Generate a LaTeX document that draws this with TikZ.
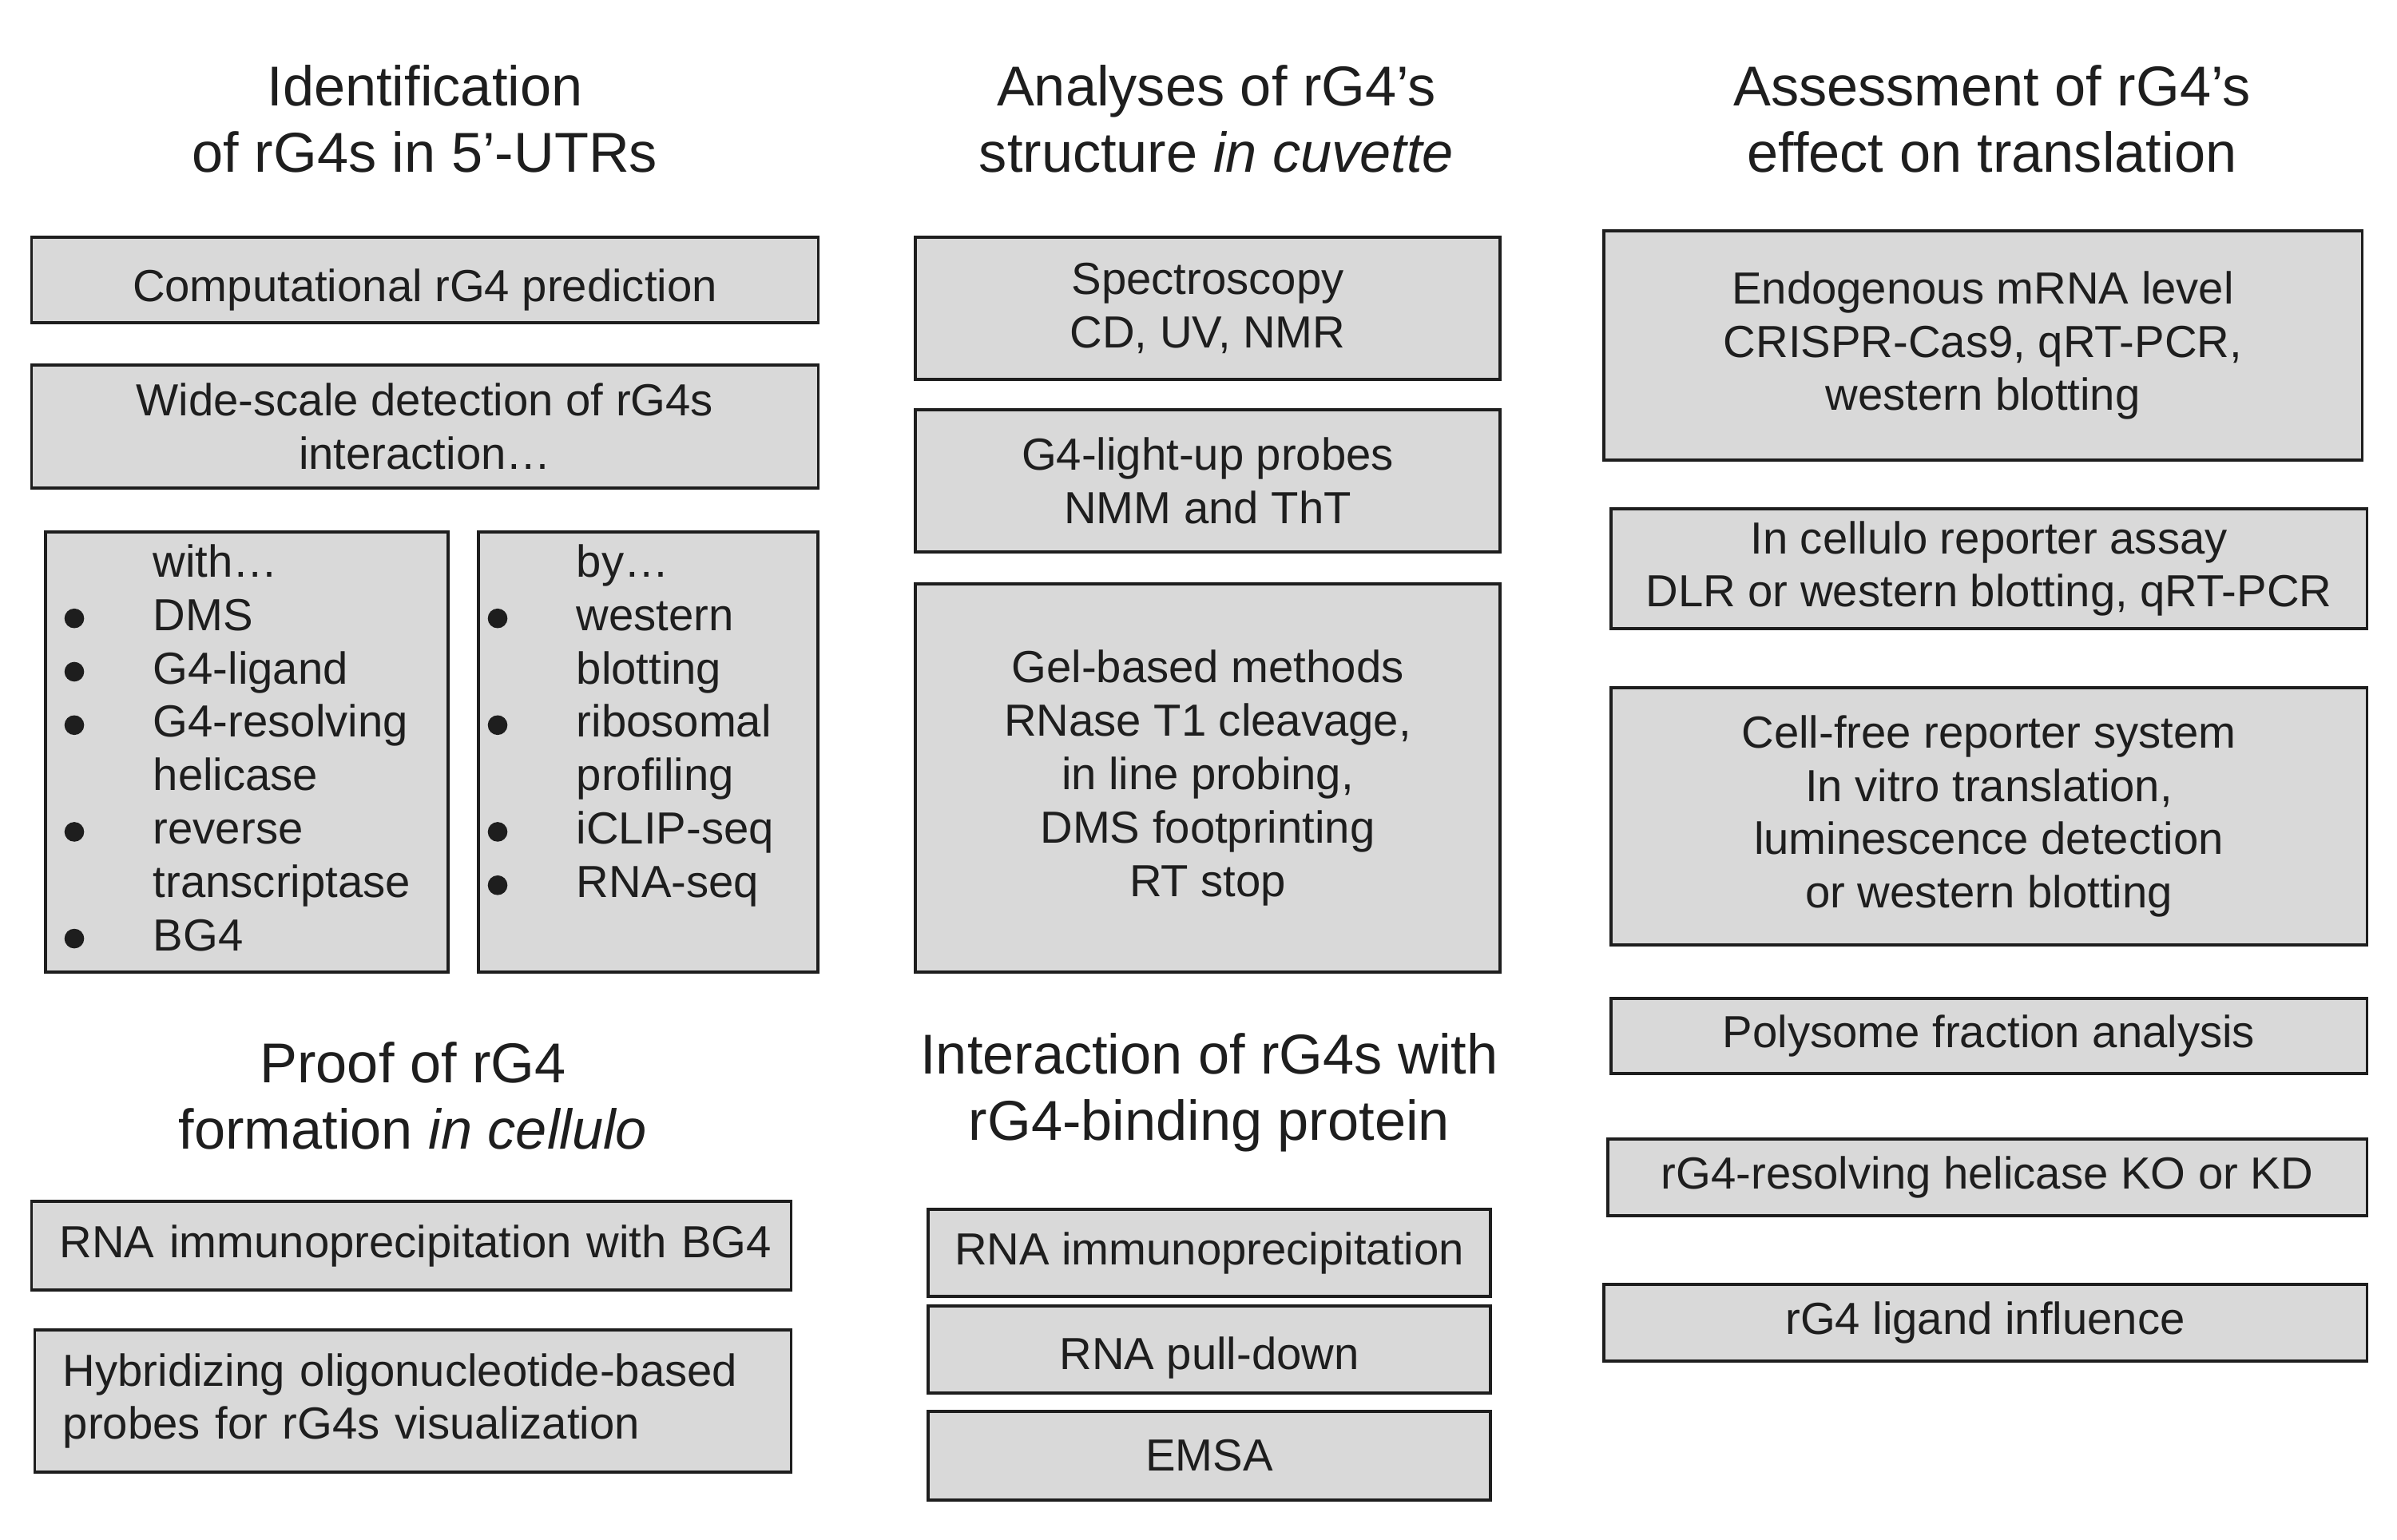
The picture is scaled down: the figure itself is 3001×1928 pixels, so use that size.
\documentclass[tikz,border=0pt]{standalone}
\usepackage{fontspec}
\setmainfont{Liberation Sans}
\definecolor{boxgray}{RGB}{217,217,217}
\definecolor{ink}{RGB}{30,30,30}
\newcommand\lbul{\makebox[31.6pt][l]{\tikz[baseline=0pt]\fill[ink] (0pt,4.3pt) circle[radius=3.5pt];}}
\newcommand\lind{\makebox[31.6pt][l]{}}
\begin{document}
\begin{tikzpicture}[x=0.01cm,y=-0.01cm,
  box/.style={draw=ink, line width=1pt, fill=boxgray, text=ink,
    font=\fontsize{16}{19}\selectfont, align=center, inner sep=0pt},
  ttl/.style={text=ink, font=\fontsize{20}{23.6}\selectfont, align=center, inner sep=0pt},
  lst/.style={text=ink, font=\fontsize{16}{19}\selectfont, align=left, inner sep=0pt, anchor=north west}]
\useasboundingbox (0,0) rectangle (3001,1928);

% ---------- column 1 ----------
\node[ttl] (t1) at (532,149) {Identification\\of rG4s in 5’-UTRs};
\node[box, minimum width=9.84cm, minimum height=1.07cm, text height=19pt, text depth=3.4pt] (b1) at (532,350.5) {Computational rG4 prediction};
\node[box, minimum width=9.84cm, minimum height=1.54cm] (b2) at (532,534) {Wide-scale detection of rG4s\\interaction…};
\node[box, minimum width=5.04cm, minimum height=5.51cm] (b3) at (309,941.5) {};
\node[box, minimum width=4.25cm, minimum height=5.51cm] (b4) at (811.5,941.5) {};
\node[lst] (l3) at (80,675) {\strut\lind with…\\
\lbul DMS\\
\lbul G4-ligand\\
\lbul G4-resolving\\
\lind helicase\\
\lbul reverse\\
\lind transcriptase\\
\lbul BG4};
\node[lst] (l4) at (610,675) {\strut\lind by…\\
\lbul western\\
\lind blotting\\
\lbul ribosomal\\
\lind profiling\\
\lbul iCLIP-seq\\
\lbul RNA-seq};

\node[ttl] (t4) at (517,1372) {Proof of rG4\\formation \textit{in cellulo}};
\node[box, minimum width=9.5cm, minimum height=1.11cm, text width=8.8cm, align=left] (b5) at (515,1559.5) {\mbox{RNA immunoprecipitation with BG4}};
\node[box, minimum width=9.46cm, minimum height=1.78cm, text width=8.76cm, align=left] (b6) at (517,1754) {Hybridizing oligonucleotide-based\\probes for rG4s visualization};

% ---------- column 2 ----------
\node[ttl] (t2) at (1523,149) {Analyses of rG4’s\\structure \textit{in cuvette}};
\node[box, minimum width=7.32cm, minimum height=1.78cm] (c1) at (1512,386) {Spectroscopy\\CD, UV, NMR};
\node[box, minimum width=7.32cm, minimum height=1.78cm] (c2) at (1512,602) {G4-light-up probes\\NMM and ThT};
\node[box, minimum width=7.32cm, minimum height=4.86cm] (c3) at (1512,974) {Gel-based methods\\RNase T1 cleavage,\\in line probing,\\DMS footprinting\\RT stop};

\node[ttl] (t5) at (1514,1368) {Interaction of rG4s with\\rG4-binding protein};
\node[box, minimum width=7.04cm, minimum height=1.09cm] (c4) at (1514,1568.5) {RNA immunoprecipitation};
\node[box, minimum width=7.04cm, minimum height=1.09cm, text height=17.5pt, text depth=3.4pt] (c5) at (1514,1689.5) {RNA pull-down};
\node[box, minimum width=7.04cm, minimum height=1.11cm] (c6) at (1514,1822.5) {EMSA};

% ---------- column 3 ----------
\node[ttl] (t3) at (2494,149) {Assessment of rG4’s\\effect on translation};
\node[box, minimum width=9.49cm, minimum height=2.87cm] (d1) at (2482.5,432.5) {Endogenous mRNA level\\CRISPR-Cas9, qRT-PCR,\\western blotting};
\node[box, minimum width=9.46cm, minimum height=1.50cm] (d2) at (2490,712) {In cellulo reporter assay\\DLR or western blotting, qRT-PCR};
\node[box, minimum width=9.46cm, minimum height=3.22cm] (d3) at (2490,1022) {Cell-free reporter system\\In vitro translation,\\luminescence detection\\or western blotting};
\node[box, minimum width=9.46cm, minimum height=0.94cm] (d4) at (2490,1297) {Polysome fraction analysis};
\node[box, minimum width=9.50cm, minimum height=0.96cm] (d5) at (2488,1474) {rG4-resolving helicase KO or KD};
\node[box, minimum width=9.55cm, minimum height=0.96cm] (d6) at (2485.5,1656) {rG4 ligand influence};
\end{tikzpicture}
\end{document}
